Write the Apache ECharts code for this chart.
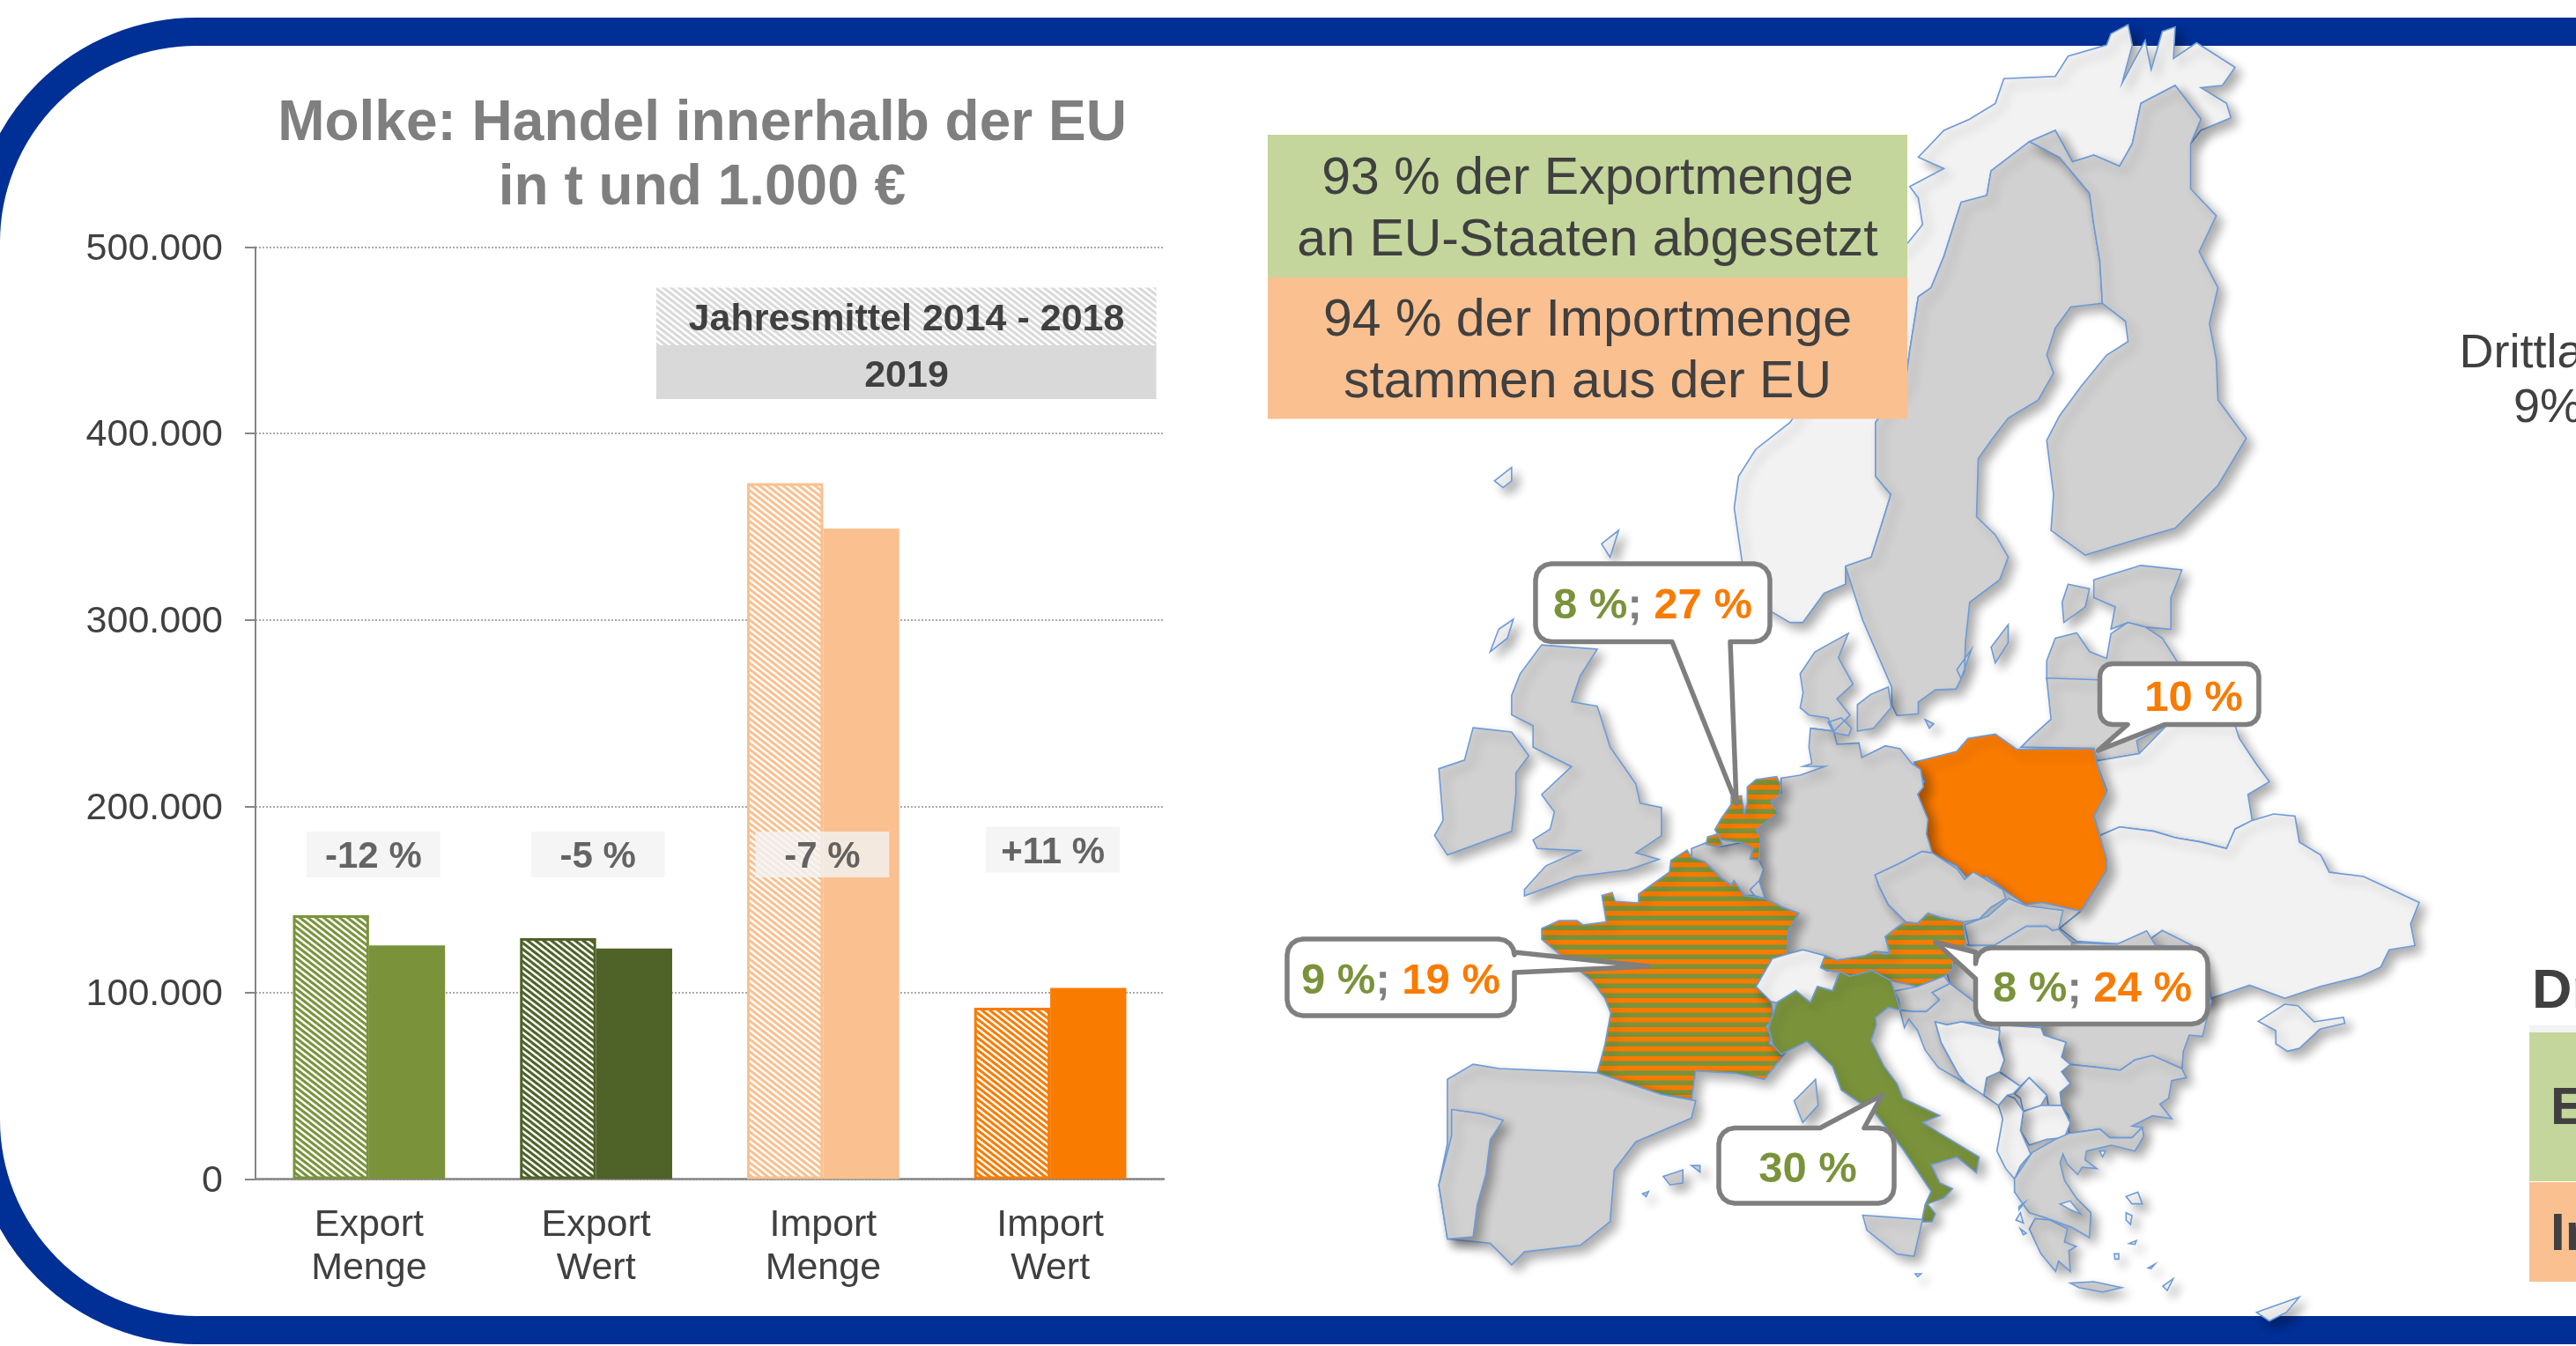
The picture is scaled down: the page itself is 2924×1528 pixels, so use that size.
<!DOCTYPE html>
<html>
<head>
<meta charset="utf-8">
<style>html,body{margin:0;padding:0;background:#fff;overflow:hidden}#chart{width:2924px;height:1528px}</style>
<script src="https://cdn.jsdelivr.net/npm/echarts@6/dist/echarts.min.js"></script>
</head>
<body>
<div id="chart"></div>
<script>
// chart data
var categories = ['Export\nMenge', 'Export\nWert', 'Import\nMenge', 'Import\nWert'];
var meanValues = [141500, 129200, 373300, 91900];   // Jahresmittel 2014 - 2018
var values2019 = [125300, 123700, 349000, 102500];
var barColors = ['#7a933b', '#4f6228', '#fac090', '#f97b00'];
var changeLabels = ['-12 %', '-5 %', '-7 %', '+11 %'];
var changeHeights = [174200, 174200, 174200, 176700];
var changeShiftX = [5, 2, -1, 3];

var GREEN = '#7a933b', ORANGE = '#f97b00', TEXT = '#404040', FONT = '"Liberation Sans", Arial, sans-serif';

function crop(ox, oy, sx, sy) {
    return function (s) {
        return s.trim().split(/\s+/).map(function (p) {
            var c = p.split(',');
            return [ox + c[0] / sx, oy + c[1] / sy];
        });
    };
}
var z3 = crop(1400, 0, 1.029, 1.96), z4 = crop(1400, 760, 1.029, 2.042), z9 = crop(1780, 760, 3, 3), z10 = crop(2160, 1020, 3, 3);

var LIGHT = '#f2f2f2', GRAY = '#d1d1d1';
var countries = [
    ['Norway', LIGHT, [z3('650,1385 610,1340 595,1260 585,1130 590,1060 610,1000 650,940 700,800 750,600 788,540 805,500 800,440 790,415 830,375 800,350 830,290 860,265 890,230 900,175 960,170 975,125 1020,100 1025,75 1045,55 1050,100 1038,185 1065,90 1072,155 1085,70 1100,60 1098,130 1125,95 1170,150 1155,190 1130,195 1160,230 1165,262 1130,290 1118,320 1130,265 1100,190 1060,230 1050,320 1035,370 1005,345 980,360 960,290 930,315 885,380 880,435 850,450 830,570 815,640 800,660 790,780 785,850 750,940 750,1060 768,1100 755,1180 745,1240 715,1260 715,1300 690,1320 665,1385')]],
    ['Sweden', GRAY, [z3('930,315 965,350 1000,430 1005,500 1012,580 1015,675 978,683 960,730 950,790 958,830 940,890 905,930 885,980 870,1020 868,1150 890,1190 905,1240 895,1290 860,1340 855,1430 854,1495 844,1533 820,1535 800,1562 800,1588 775,1592 769,1568 769,1529 735,1380 725,1320 715,1260 745,1240 755,1180 768,1100 750,1060 750,940 785,850 790,780 800,660 815,640 830,570 850,450 880,435 885,380'), z3('885,1440 905,1390 905,1430 890,1475'), z3('845,1490 862,1445 850,1510')]],
    ['Finland', GRAY, [z3('1100,190 1060,230 1050,320 1035,370 1005,345 980,360 960,290 930,315 965,350 1000,430 1005,500 1012,580 1015,675 1042,715 1045,760 1020,790 990,860 965,925 950,980 958,1100 955,1180 995,1235 1055,1200 1100,1175 1150,1080 1183,975 1150,890 1148,800 1140,720 1150,640 1128,560 1148,480 1118,420 1118,320 1130,265')]],
    ['Estonia', GRAY, [z3('1005,1290 1060,1258 1108,1268 1095,1330 1095,1400 1065,1395 1045,1385 1025,1400 1030,1350 1005,1330'), z3('975,1300 1000,1310 995,1350 970,1385 968,1340')]],
    ['Latvia', GRAY, [z3('950,1470 960,1420 985,1408 1000,1450 1020,1465 1025,1410 1045,1385 1065,1395 1085,1420 1105,1480 1100,1520 950,1512')]],
    ['Lithuania', GRAY, [z4('950,20 1100,30 1090,130 1055,165 1058,195 1008,212 1005,183 920,180 930,160 955,115')]],
    ['Belarus', LIGHT, [z4('1005,183 1008,215 1020,280 1005,340 1012,385 1035,365 1075,375 1100,390 1130,400 1160,415 1170,370 1190,350 1185,290 1210,260 1195,220 1175,160 1170,130 1095,120 1058,195 1008,212')]],
    ['Ukraine', LIGHT, [z4('1012,385 1035,365 1075,375 1100,390 1130,400 1160,415 1170,370 1190,350 1215,335 1240,340 1245,400 1270,430 1280,470 1320,480 1385,540 1375,590 1380,640 1350,650 1340,690 1317,711 1269,735 1228,762 1187,732 1142,762 1130,770 1115,700 1085,605 1060,640 985,630 965,600 990,560 1020,465'), z10('1210,418 1300,360 1345,365 1400,420 1500,405 1505,425 1420,445 1350,510 1310,520 1270,495 1270,450')]],
    ['Moldova', GRAY, [z4('1060,640 1085,605 1120,640 1135,680 1142,762 1125,775 1110,720')]],
    ['Romania', GRAY, [z10('530,105 575,150 690,155 730,155 830,110 860,160 1000,165 1045,340 1050,350 1020,470 975,465 955,520 950,580 850,535 790,550 740,585 660,575 570,565 540,540 555,490 480,465 470,440 560,300')]],
    ['Poland', ORANGE, [z4('795,215 845,190 858,160 890,150 915,185 1005,183 1008,215 1020,285 1005,340 1012,385 1020,440 1020,465 990,560 945,540 925,545 900,510 880,480 860,490 845,455 815,425 805,360 798,290 808,260')]],
    ['Germany', GRAY, [z9('875,330 800,330 830,320 820,265 825,200 905,210 915,255 990,250 1000,300 1080,260 1130,270 1170,320 1200,340 1210,400 1190,425 1225,510 1220,560 1240,625 1205,620 1130,660 1045,700 1060,740 1090,800 1150,860 1125,875 1080,910 1095,965 1045,960 1010,975 915,990 875,975 800,955 745,970 750,890 785,830 730,810 670,780 650,720 665,680 645,650 650,580 655,570 640,545 715,490 690,450 725,420 725,370 790,360')]],
    ['Denmark', GRAY, [z9('825,200 905,210 885,165 820,155 790,130 800,80 790,15 840,-60 954,-123 920,-40 970,50 915,100 960,155 905,210'), z9('985,120 1030,85 1090,60 1100,130 1040,200 985,210'), z9('885,180 930,165 965,200 955,225 905,215'), z9('1215,170 1245,185 1230,200')]],
    ['Belgium', GRAY, [z9('420,610 470,590 510,605 590,590 630,610 620,645 650,650 665,680 650,720 620,750 635,770 600,770 565,720 555,735 520,710 490,680 465,655 420,640')]],
    ['Luxembourg', GRAY, [z9('620,750 650,720 670,780 635,770')]],
    ['Netherlands', 'stripes', [z9('610,400 640,375 710,365 725,395 720,430 690,450 715,490 640,545 655,570 650,650 620,645 630,610 590,590 520,580 500,545 520,510 555,460 555,435 590,430 600,490 610,455'), z9('475,570 510,560 525,595 510,605 470,595')]],
    ['France', 'stripes', [z9('405,615 420,640 465,655 520,710 555,735 565,720 600,770 670,780 730,810 785,830 750,890 745,970 695,985 640,1080 690,1130 700,1190 675,1215 690,1250 685,1275 740,1305 726,1323 668,1396 570,1375 434,1367 420,1463 318,1448 99,1374 125,1279 145,1170 125,1120 80,1060 -90,919 -90,882 -30,855 30,855 50,870 130,860 115,770 150,760 160,790 240,795 240,765 345,690 350,650')]],
    ['Corsica', GRAY, [z4('680,950 683,1010 665,1050 655,1000')]],
    ['Switzerland', LIGHT, [z9('640,1080 695,985 745,970 800,955 875,975 860,1015 880,1025 925,1030 900,1095 850,1080 825,1135 775,1095 710,1135 690,1130')]],
    ['Czechia', GRAY, [z9('1045,700 1130,660 1205,620 1240,625 1325,680 1350,715 1380,690 1480,750 1490,780 1440,810 1400,850 1345,860 1270,845 1225,830 1190,865 1150,860 1090,800 1060,740')]],
    ['Slovakia', GRAY, [z10('210,90 290,60 360,0 420,25 545,40 530,105 510,110 490,95 420,95 310,160 225,160')]],
    ['Hungary', GRAY, [z10('225,160 310,160 420,95 490,95 510,110 530,105 575,150 560,300 470,440 330,430 240,350 160,290 150,255 215,155')]],
    ['Austria', 'stripes', [z9('860,1015 875,975 915,990 1010,975 1045,960 1080,970 1095,965 1080,910 1125,875 1150,860 1190,865 1225,830 1270,845 1345,860 1355,935 1310,1000 1310,1020 1280,1045 1190,1080 1100,1060 1035,1025 960,1045 925,1030 880,1025')]],
    ['Slovenia', GRAY, [z10('-30,315 50,300 140,265 160,290 100,320 125,345 80,385 30,385 -10,380 -15,345')]],
    ['Croatia', GRAY, [z10('-10,380 30,385 80,385 125,345 100,320 160,290 240,350 330,430 200,420 150,430 110,420 130,490 190,600 215,630 120,575 75,515 50,450 20,410 5,440')]],
    ['Italy', GREEN, [z4('625,830 635,772 657,745 674,772 682,735 700,745 708,701 720,711 746,698 768,721 772,745 779,790 765,783 750,807 751,824 745,860 760,920 775,960 782,994 825,1034 805,1050 825,1075 871,1130 868,1167 845,1130 815,1148 825,1190 840,1204 830,1225 811,1239 820,1262 816,1280 804,1280 808,1240 815,1210 782,1112 750,1030 710,975 700,920 670,862 640,892 630,870')]],
    ['Sicily', GRAY, [z4('735,1265 805,1275 795,1360 775,1355 740,1300')]],
    ['Spain', GRAY, [z4('250,950 280,915 310,925 425,935 500,985 540,1000 535,1040 470,1095 445,1160 440,1280 405,1335 340,1350 325,1380 300,1330 250,1320 240,1195 250,1100'), z4('502,1175 525,1160 525,1190 510,1195'), z4('535,1150 545,1150 545,1165'), z4('478,1215 485,1210 482,1222')]],
    ['Portugal', GRAY, [z4('255,1020 290,1030 315,1045 300,1090 295,1170 285,1240 280,1315 250,1320 240,1195 255,1080')]],
    ['Britain', GRAY, [z4('360,-57 425,-47 405,15 395,75 425,85 440,180 470,265 475,310 500,320 500,385 470,425 497,440 460,465 400,480 340,525 340,510 365,455 405,420 355,415 350,395 370,370 375,330 360,290 395,225 350,180 350,130 325,105 325,60 335,10')]],
    ['Ireland', GRAY, [z4('280,135 325,145 345,200 330,240 330,290 325,375 250,430 235,385 245,350 240,230 270,210')]],
    ['Islands north', LIGHT, [z3('305,1070 325,1040 325,1070 315,1085'), z3('430,1210 450,1180 440,1240'), z3('310,1400 327,1378 320,1420 300,1450')]],
    ['Bulgaria', GRAY, [z10('570,565 660,575 740,585 790,550 850,535 950,580 965,610 915,620 905,680 875,700 915,750 850,740 780,775 815,780 780,815 705,815 670,785 565,800 565,740 535,705 535,660 570,630 540,590')]],
    ['Serbia', LIGHT, [z10('330,430 470,440 480,465 555,490 540,540 570,565 540,590 570,630 535,660 540,705 495,705 490,670 430,610 400,640 330,590 345,550 325,470')]],
    ['Kosovo', LIGHT, [z10('380,665 430,610 490,670 470,705 410,725 400,680')]],
    ['Macedonia', LIGHT, [z10('410,725 470,705 540,705 570,765 550,815 490,820 430,840 400,790')]],
    ['Albania', LIGHT, [z10('325,705 355,670 380,680 410,725 400,790 435,870 400,910 380,955 350,920 320,860 340,750')]],
    ['Montenegro', LIGHT, [z10('275,670 285,610 320,585 400,640 375,665 355,670 325,705')]],
    ['Bosnia', LIGHT, [z10('110,420 150,430 200,420 330,450 325,490 345,550 330,590 285,610 275,670 215,630 190,600 130,490')]],
    ['Greece', GRAY, [z10('380,955 440,865 520,820 565,800 670,785 705,815 780,815 815,780 820,810 790,860 710,840 625,860 620,890 660,920 610,915 595,940 560,905 545,870 535,900 550,960 590,1020 640,1070 635,1155 575,1120 480,1085 430,1070 405,1035 380,1000'), z10('450,1090 500,1095 560,1125 550,1170 590,1185 565,1200 570,1270 530,1235 520,1270 470,1210 430,1125'), z10('570,1310 650,1305 745,1325 680,1340 600,1325')]],
    ['Aegean', LIGHT, [z10('535,1040 570,1030 605,1075 570,1060'), z10('760,1015 800,1000 815,1040 780,1040'), z10('760,1070 780,1080 775,1110 760,1095'), z10('885,1320 920,1295 900,1335'), z10('670,860 690,860 680,880'), z10('395,1050 415,1035 395,1060'), z10('385,1095 400,1070 410,1105'), z10('400,1125 420,1140 410,1145'), z10('770,1175 795,1165 790,1178'), z10('720,1210 735,1210 735,1228 722,1228'), z10('835,1258 858,1245 845,1260'), z10('42,1278 62,1278 50,1288')]],
    ['Cyprus', LIGHT, [z4('1195,1490 1245,1455 1230,1490 1210,1510')]]
];

function hatchTile(color, width) {
    var w = 9, h = 7;
    var c = document.createElement('canvas');
    c.width = w; c.height = h;
    var ctx = c.getContext('2d');
    ctx.fillStyle = '#fff';
    ctx.fillRect(0, 0, w, h);
    ctx.strokeStyle = color;
    ctx.lineWidth = width;
    [[-w, 0, w, 2 * h], [0, 0, w, h], [w, 0, 2 * w, h], [0, -h, w, 0]].forEach(function (l) {
        ctx.beginPath();
        ctx.moveTo(l[0], l[1]);
        ctx.lineTo(l[2], l[3]);
        ctx.stroke();
    });
    return { image: c, repeat: 'repeat' };
}

function stripeTile() {
    var c = document.createElement('canvas');
    c.width = 4; c.height = 11;
    var ctx = c.getContext('2d');
    ctx.fillStyle = ORANGE;
    ctx.fillRect(0, 0, 4, 11);
    ctx.fillStyle = GREEN;
    ctx.fillRect(0, 5.5, 4, 5.5);
    return { image: c, repeat: 'repeat' };
}

var features = countries.map(function (c) {
    return {
        type: 'Feature',
        properties: { name: c[0] },
        geometry: { type: 'MultiPolygon', coordinates: c[2].map(function (ring) { return [ring]; }) }
    };
});
echarts.registerMap('europe', { type: 'FeatureCollection', features: features });

var xs = [], ys = [];
countries.forEach(function (c) {
    c[2].forEach(function (ring) {
        ring.forEach(function (p) { xs.push(p[0]); ys.push(p[1]); });
    });
});
var minX = Math.min.apply(null, xs), maxX = Math.max.apply(null, xs);
var minY = Math.min.apply(null, ys), maxY = Math.max.apply(null, ys);

var stripes = stripeTile();
var regions = countries.map(function (c) {
    return { name: c[0], itemStyle: { areaColor: c[1] === 'stripes' ? stripes : c[1] } };
});

// --- graphic helpers
function box(x, y, w, h, fill) {
    return { type: 'rect', z: 20, silent: true, shape: { x: x, y: y, width: w, height: h }, style: { fill: fill } };
}
function label(x, y, text, size, weight, align) {
    return {
        type: 'text', z: 21, silent: true, x: x, y: y + 3,
        style: { text: text, fontSize: size, fontWeight: weight || 'normal', fontFamily: FONT, fill: TEXT, align: align || 'center', verticalAlign: 'middle' }
    };
}
// rounded box with a pointer, side is the edge the pointer leaves from
function calloutPoints(x, y, w, h, r, side, a, b, tip) {
    var pts = [];
    function arc(cx, cy, from) {
        for (var i = 0; i <= 4; i++) {
            var t = (from + i * 22.5) * Math.PI / 180;
            pts.push([cx + r * Math.cos(t), cy + r * Math.sin(t)]);
        }
    }
    arc(x + r, y + r, 180);
    if (side === 'top') { pts.push([a, y], tip, [b, y]); }
    arc(x + w - r, y + r, 270);
    if (side === 'right') { pts.push([x + w, a], tip, [x + w, b]); }
    arc(x + w - r, y + h - r, 0);
    if (side === 'bottom') { pts.push([b, y + h], tip, [a, y + h]); }
    arc(x + r, y + h - r, 90);
    if (side === 'left') { pts.push([x, b], tip, [x, a]); }
    return pts;
}
function callout(pts, cx, cy, text) {
    return [{
        type: 'polygon', z: 22, silent: true, shape: { points: pts },
        style: { fill: '#fff', stroke: '#7f7f7f', lineWidth: 5.5, lineJoin: 'round' }
    }, {
        type: 'text', z: 23, silent: true, x: cx, y: cy + 3,
        style: {
            text: text, align: 'center', verticalAlign: 'middle', fontFamily: FONT, fontSize: 49, fontWeight: 'bold',
            rich: {
                g: { fontSize: 49, fontWeight: 'bold', fontFamily: FONT, fill: GREEN },
                o: { fontSize: 49, fontWeight: 'bold', fontFamily: FONT, fill: ORANGE },
                k: { fontSize: 49, fontWeight: 'bold', fontFamily: FONT, fill: '#7f7f7f' }
            }
        }
    }];
}

var graphics = [
    // blue frame, runs off the page on the left and the right
    { type: 'rect', z: -1, silent: true, shape: { x: -16, y: 36, width: 3200, height: 1474, r: 239 }, style: { fill: 'none', stroke: '#002f96', lineWidth: 32 } },
    // legend of the bars
    { type: 'rect', z: 20, silent: true, shape: { x: 745, y: 326.5, width: 567.5, height: 65.5 }, style: { fill: hatchTile('#d9d9d9', 3) } },
    box(745, 392, 567.5, 61, '#d9d9d9'),
    label(1029, 360, 'Jahresmittel 2014 - 2018', 43, 'bold'),
    label(1029, 424, '2019', 43, 'bold'),
    // share boxes
    box(1439, 153, 726, 162, '#c4d69b'),
    box(1439, 315, 726, 160.5, '#fac090'),
    label(1802, 200.5, '93 % der Exportmenge', 59),
    label(1802, 271, 'an EU-Staaten abgesetzt', 59),
    label(1802, 362, '94 % der Importmenge', 59),
    label(1802, 432, 'stammen aus der EU', 59),
    // right edge of the slide
    label(2892, 399, 'Drittland', 54),
    label(2892, 461, '9%', 54),
    label(2874, 1124, 'Drittland', 63, 'bold', 'left'),
    box(2871, 1164, 60, 8, '#f2f2f2'),
    box(2871, 1172, 60, 169, '#c4d69b'),
    box(2871, 1342, 60, 113, '#fac090'),
    label(2895, 1256, 'Export', 60, 'bold', 'left'),
    label(2895, 1399, 'Import', 60, 'bold', 'left')
].concat(
    callout(calloutPoints(1743, 640, 266, 88.5, 18, 'bottom', 1898, 1964, [1971, 912]), 1876, 685, '{g|8 %}{k|;} {o|27 %}'),
    callout(calloutPoints(2383.5, 753.5, 180.5, 69, 14, 'bottom', 2415, 2457, [2381.5, 852]), 2490, 790, '{o|10 %}'),
    callout(calloutPoints(1461, 1066, 258, 87, 18, 'right', 1081, 1104, [1871, 1097]), 1590, 1111, '{g|9 %}{k|;} {o|19 %}'),
    callout(calloutPoints(2242.5, 1076, 263.5, 86.5, 18, 'left', 1081, 1111, [2197, 1069.5]), 2375, 1120, '{g|8 %}{k|;} {o|24 %}'),
    callout(calloutPoints(1951, 1280.5, 199, 85.5, 18, 'top', 2066, 2116, [2136.5, 1243]), 2052, 1325, '{g|30 %}')
);

var chart = echarts.init(document.getElementById('chart'));

function barData(values) {
    return values.map(function (v, i) { return { value: v, itemStyle: { color: barColors[i] } }; });
}
function hatchData(values) {
    return values.map(function (v, i) {
        return { value: v, itemStyle: { color: hatchTile(barColors[i], 3), borderColor: barColors[i], borderWidth: 3 } };
    });
}

chart.setOption({
    animation: false,
    backgroundColor: '#fff',
    title: {
        text: 'Molke: Handel innerhalb der EU\nin t und 1.000 €',
        left: 792, top: 100, textAlign: 'center',
        textStyle: { fontFamily: FONT, fontSize: 64, fontWeight: 'bold', color: '#7f7f7f', lineHeight: 73 }
    },
    grid: { left: 290, top: 280.5, width: 1031, height: 1058 },
    xAxis: {
        type: 'category',
        data: categories,
        axisLine: { lineStyle: { color: '#868686', width: 2.5 } },
        axisTick: { length: 13, lineStyle: { color: '#868686', width: 2 } },
        axisLabel: { margin: 28, fontFamily: FONT, fontSize: 43, lineHeight: 49, color: TEXT }
    },
    yAxis: {
        type: 'value',
        min: 0, max: 500000, interval: 100000,
        axisLine: { show: true, lineStyle: { color: '#868686', width: 2 } },
        axisTick: { show: true, length: 12, lineStyle: { color: '#868686', width: 2 } },
        axisLabel: {
            margin: 37, fontFamily: FONT, fontSize: 43, color: TEXT,
            formatter: function (v) { return '{t|' + v.toLocaleString('de-DE') + '}'; },
            rich: { t: { fontFamily: FONT, fontSize: 43, color: TEXT, padding: [5, 0, 0, 0] } }
        },
        splitLine: { lineStyle: { color: '#8f8f8f', width: 1.5, type: [2, 2] } }
    },
    geo: {
        map: 'europe',
        silent: true,
        roam: false,
        aspectScale: 1,
        projection: { project: function (p) { return p; }, unproject: function (p) { return p; } },
        left: minX, top: minY, width: maxX - minX, height: maxY - minY,
        label: { show: false },
        itemStyle: {
            areaColor: GRAY, borderColor: '#6c9bd9', borderWidth: 1.6,
            shadowColor: 'rgba(0,0,0,0.32)', shadowBlur: 12, shadowOffsetX: 7, shadowOffsetY: 7
        },
        regions: regions
    },
    series: [
        { type: 'bar', name: 'Jahresmittel 2014 - 2018', barCategoryGap: '33%', barGap: 0, z: 2, data: hatchData(meanValues) },
        { type: 'bar', name: '2019', barCategoryGap: '33%', barGap: 0, z: 2, data: barData(values2019) },
        {
            type: 'scatter', name: 'Veränderung', symbolSize: 1, z: 5,
            itemStyle: { color: 'rgba(0,0,0,0)' },
            data: changeLabels.map(function (t, i) {
                return { value: [i, changeHeights[i]], name: t, label: { offset: [changeShiftX[i], 0] } };
            }),
            label: {
                show: true, position: 'inside', formatter: '{t|{b}}',
                padding: [4, 0, 4, 0], backgroundColor: '#f2f2f2',
                rich: { t: { width: 152, height: 44, lineHeight: 44, padding: [8, 0, 0, 0], align: 'center', fontFamily: FONT, fontSize: 42, fontWeight: 'bold', color: TEXT } }
            }
        }
    ],
    graphic: graphics
});
</script>
</body>
</html>
